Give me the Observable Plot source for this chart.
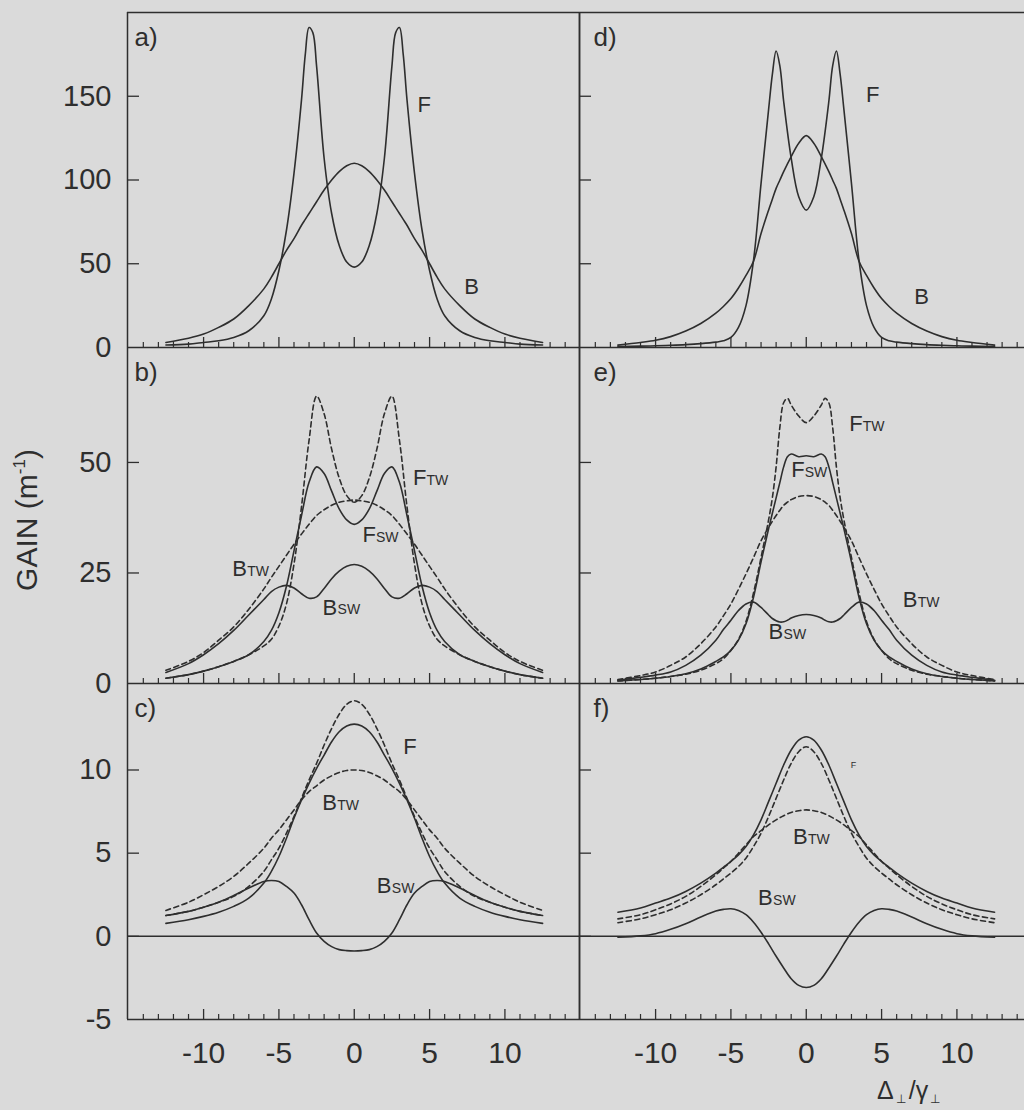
<!DOCTYPE html>
<html>
<head>
<meta charset="utf-8">
<script src="https://cdn.jsdelivr.net/npm/d3@7"></script>
<script src="https://cdn.jsdelivr.net/npm/@observablehq/plot@0.6"></script>
<style>
  html, body { margin: 0; padding: 0; background: #dadada; }
  #fig { position: relative; width: 1024px; height: 1110px; overflow: hidden; background: #dadada;
         font-family: "Liberation Sans", Arial, Helvetica, sans-serif; color: #2e2e2e; }
  .cell { position: absolute; }
  #ylab { position: absolute; left: 27px; top: 520px; transform: translate(-50%, -50%) rotate(-90deg);
          font-size: 30px; white-space: nowrap; }
  #ylab sup { font-size: 17px; vertical-align: 12px; }
  #xlab { position: absolute; left: 877px; top: 1078px; font-size: 25px; line-height: 25px; white-space: nowrap; }
  #xlab sub { font-size: 12px; vertical-align: -4px; margin: 0 3px 0 2px; }
</style>
</head>
<body>
<div id="fig"></div>
<script>
// ---------- data ----------
const xMajor = [-10, -5, 0, 5, 10];
const xMinor = [-14,-13,-12,-11,-9,-8,-7,-6,-4,-3,-2,-1,1,2,3,4,6,7,8,9,11,12,13,14];
const yTicksA = [0, 50, 100, 150];
const yTicksB = [0, 25, 50];
const yTicksC = [-5, 0, 5, 10];
const panelLetters = ["a)", "b)", "c)", "d)", "e)", "f)"];

// panel a
const xA = [-12.5,-11,-10,-9,-8,-7,-6,-5.5,-5,-4.5,-4,-3.5,-3.25,-3,-2.75,-2.5,-2,-1.5,-1,-0.5,0,0.5,1,1.5,2,2.5,2.75,3,3.25,3.5,4,4.5,5,5.5,6,7,8,9,10,11,12.5];
const aF = [1.5,2,3,4,6,10,19,29,46,70,104,148,175,191,188,168,113,80,61,51,48,51,61,80,113,168,188,191,175,148,104,70,46,29,19,10,6,4,3,2,1.5];
const aB = [3,5.5,8,12,17,25,35,42,50,58,65,73,76.5,80,83.5,87,94,100,105,108.5,110,108.5,105,100,94,87,83.5,80,76.5,73,65,58,50,42,35,25,17,12,8,5.5,3];

// panel d
const xD = [-12.5,-11,-10,-9,-8,-7,-6,-5.5,-5,-4.5,-4,-3.5,-3,-2.5,-2.25,-2,-1.75,-1.5,-1,-0.5,0,0.5,1,1.5,1.75,2,2.25,2.5,3,3.5,4,4.5,5,5.5,6,7,8,9,10,11,12.5];
const dF = [0.5,0.8,1,1.3,1.7,2.3,3.2,4,6,12,25,52,98,142,163,177,168,147,113,90,82,90,113,147,168,177,163,142,98,52,25,12,6,4,3.2,2.3,1.7,1.3,1,0.8,0.5];
const dB = [1.4,3,4.3,6.5,9.8,14.3,20.5,24.5,29.2,35.5,43,51.5,68,82,88.5,95,100,105,114,122,126.5,122,114,105,100,95,88.5,82,68,51.5,43,35.5,29.2,24.5,20.5,14.3,9.8,6.5,4.3,3,1.4];

// panel b
const xB = [-12.5,-11,-10,-9,-8,-7,-6,-5.5,-5,-4.5,-4,-3.5,-3,-2.5,-2,-1.5,-1,-0.5,0,0.5,1,1.5,2,2.5,3,3.5,4,4.5,5,5.5,6,7,8,9,10,11,12.5];
const bFtw = [1.2,2,2.8,3.8,5,6.5,8.5,10,13,18,27,40,55,65,61,53,46.5,42.5,41,42.5,46.5,53,61,65,55,40,27,18,13,10,8.5,6.5,5,3.8,2.8,2,1.2];
const bFsw = [1.2,2,2.8,3.8,5,6.5,9.5,12,16,22,30,38,45.5,49,47.5,43.5,39.5,37,36,37,39.5,43.5,47.5,49,45.5,38,30,22,16,12,9.5,6.5,5,3.8,2.8,2,1.2];
const bBtw = [3,5,7,9.8,12.8,16.8,21.4,24,26.5,29,31.5,33.8,36,38,39.3,40.3,41,41.3,41.5,41.3,41,40.3,39.3,38,36,33.8,31.5,29,26.5,24,21.4,16.8,12.8,9.8,7,5,3];
const bBsw = [2.5,4.5,6.5,9,12,15.5,19,20.8,21.8,22.2,21.6,20.3,19.3,19.6,21.5,23.7,25.4,26.5,26.9,26.5,25.4,23.7,21.5,19.6,19.3,20.3,21.6,22.2,21.8,20.8,19,15.5,12,9,6.5,4.5,2.5];

// panel e
const xE = [-12.5,-11,-10,-9,-8,-7,-6,-5.5,-5,-4.5,-4,-3.5,-3,-2.5,-2.25,-2,-1.75,-1.5,-1.25,-1,-0.5,0,0.5,1,1.25,1.5,1.75,2,2.25,2.5,3,3.5,4,4.5,5,5.5,6,7,8,9,10,11,12.5];
const eFtw = [0.6,0.9,1.2,1.6,2.1,3,4.5,5.6,7.5,10,14,20.5,28.5,37,42,49,58,63.5,64.5,63,60.5,59,60.5,63,64.5,63.5,58,49,42,37,28.5,20.5,14,10,7.5,5.6,4.5,3,2.1,1.6,1.2,0.9,0.6];
const eFsw = [0.6,0.9,1.2,1.6,2.2,3.3,5,6,7.5,9.8,13.5,19.5,27.5,35,38.5,42,45.5,49,51.3,51.9,51.3,51.5,51.3,51.9,51.3,49,45.5,42,38.5,35,27.5,19.5,13.5,9.8,7.5,6,5,3.3,2.2,1.6,1.2,0.9,0.6];
const eBtw = [0.9,1.8,2.6,4.1,6,9,12.8,15.3,18,21.3,24.8,28.5,32.3,35.3,36.7,38,39.2,40.3,41,41.6,42.3,42.5,42.3,41.6,41,40.3,39.2,38,36.7,35.3,32.3,28.5,24.8,21.3,18,15.3,12.8,9,6,4.1,2.6,1.8,0.9];
const eBsw = [0.75,1.4,1.9,2.6,4.1,6.4,9.8,12.2,14.3,16.5,18,18.4,17.2,15.5,14.7,14.2,13.9,13.95,14.3,14.8,15.4,15.6,15.4,14.8,14.3,13.95,13.9,14.2,14.7,15.5,17.2,18.4,18,16.5,14.3,12.2,9.8,6.4,4.1,2.6,1.9,1.4,0.75];

// panel c
const xC = [-12.5,-11,-10,-9,-8,-7,-6,-5.5,-5,-4.5,-4,-3.5,-3,-2.5,-2,-1.5,-1,-0.5,0,0.5,1,1.5,2,2.5,3,3.5,4,4.5,5,5.5,6,7,8,9,10,11,12.5];
const cFtw = [1.25,1.5,1.75,2.05,2.4,3.0,3.9,4.6,5.3,6.2,7.2,8.3,9.4,10.4,11.5,12.5,13.35,13.95,14.16,13.95,13.35,12.5,11.5,10.4,9.4,8.3,7.2,6.2,5.3,4.6,3.9,3.0,2.4,2.05,1.75,1.5,1.25];
const cF = [0.78,1.0,1.2,1.45,1.8,2.3,3.2,3.9,4.8,5.9,7.1,8.2,9.2,10.1,10.9,11.7,12.3,12.65,12.76,12.65,12.3,11.7,10.9,10.1,9.2,8.2,7.1,5.9,4.8,3.9,3.2,2.3,1.8,1.45,1.2,1.0,0.78];
const cBtw = [1.56,2.05,2.5,3.0,3.6,4.4,5.3,5.9,6.4,7.0,7.6,8.2,8.7,9.05,9.4,9.65,9.85,9.97,10,9.97,9.85,9.65,9.4,9.05,8.7,8.2,7.6,7.0,6.4,5.9,5.3,4.4,3.6,3.0,2.5,2.05,1.56];
const cBsw = [1.25,1.5,1.75,2.05,2.45,2.9,3.3,3.36,3.3,3.0,2.6,1.9,1.0,0.2,-0.3,-0.62,-0.8,-0.86,-0.88,-0.86,-0.8,-0.62,-0.3,0.2,1.0,1.9,2.6,3.0,3.3,3.36,3.3,2.9,2.45,2.05,1.75,1.5,1.25];

// panel f
const xF = [-12.5,-11,-10,-9,-8,-7,-6,-5.5,-5,-4.5,-4,-3.5,-3,-2.5,-2,-1.5,-1,-0.5,0,0.5,1,1.5,2,2.5,3,3.5,4,4.5,5,5.5,6,7,8,9,10,11,12.5];
const fF = [1.45,1.7,2.0,2.3,2.7,3.2,3.8,4.15,4.5,4.9,5.4,6.1,7.0,8.1,9.2,10.3,11.2,11.8,12.0,11.8,11.2,10.3,9.2,8.1,7.0,6.1,5.4,4.9,4.5,4.15,3.8,3.2,2.7,2.3,2.0,1.7,1.45];
const fFtw = [0.82,1.05,1.3,1.6,2.0,2.5,3.1,3.45,3.8,4.2,4.7,5.4,6.2,7.2,8.3,9.4,10.4,11.1,11.4,11.1,10.4,9.4,8.3,7.2,6.2,5.4,4.7,4.2,3.8,3.45,3.1,2.5,2.0,1.6,1.3,1.05,0.82];
const fBtw = [1.05,1.3,1.6,1.95,2.4,3.0,3.7,4.1,4.5,5.0,5.5,6.0,6.35,6.7,7.0,7.25,7.45,7.55,7.6,7.55,7.45,7.25,7.0,6.7,6.35,6.0,5.5,5.0,4.5,4.1,3.7,3.0,2.4,1.95,1.6,1.3,1.05];
const fBsw = [-0.05,0.03,0.16,0.42,0.76,1.16,1.52,1.62,1.66,1.55,1.3,0.85,0.25,-0.45,-1.2,-1.9,-2.55,-2.95,-3.08,-2.95,-2.55,-1.9,-1.2,-0.45,0.25,0.85,1.3,1.55,1.66,1.62,1.52,1.16,0.76,0.42,0.16,0.03,-0.05];

// curve annotations (letter, subscript, data position)
const annotA = [{t:"F", s:"", x:4.2, y:145}, {t:"B", s:"", x:7.3, y:36}];
const annotB = [{t:"F", s:"TW", x:3.9, y:46.5}, {t:"F", s:"SW", x:0.54, y:33.5}, {t:"B", s:"TW", x:-8.1, y:26}, {t:"B", s:"SW", x:-2.1, y:17.2}];
const annotC = [{t:"F", s:"", x:3.26, y:11.4}, {t:"B", s:"TW", x:-2.13, y:8.0}, {t:"B", s:"SW", x:1.5, y:3.0}];
const annotD = [{t:"F", s:"", x:3.96, y:151}, {t:"B", s:"", x:7.17, y:30}];
const annotE = [{t:"F", s:"TW", x:2.85, y:58.8}, {t:"F", s:"SW", x:-1.0, y:48.2}, {t:"B", s:"TW", x:6.4, y:18.8}, {t:"B", s:"SW", x:-2.5, y:11.6}];
const annotF = [{t:"F", s:"", x:2.95, y:10.3, small:true}, {t:"B", s:"TW", x:-0.88, y:5.96}, {t:"B", s:"SW", x:-3.2, y:2.3}];

// ---------- layout ----------
const INK = "#2e2e2e";
const FONT = "'Liberation Sans', Arial, Helvetica, sans-serif";
const xDom = [-15.05, 14.95];
const cols = [{left: 0, width: 579, ml: 127}, {left: 579, width: 452, ml: 0}];
const rows = [{top: 0, mt: 12, inner: 335, mb: 0}, {top: 347, mt: 0, inner: 336, mb: 0}, {top: 683, mt: 0, inner: 336, mb: 72}];

const panels = [
  {letter: panelLetters[0], col: 0, row: 0, yDom: [0, 200], yTicks: yTicksA, x: xA, annots: annotA,
   series: [{y: aF}, {y: aB}]},
  {letter: panelLetters[1], col: 0, row: 1, yDom: [0, 76], yTicks: yTicksB, x: xB, annots: annotB,
   series: [{y: bFtw, dash: true}, {y: bBtw, dash: true}, {y: bFsw}, {y: bBsw}]},
  {letter: panelLetters[2], col: 0, row: 2, yDom: [-5, 15.2], yTicks: yTicksC, x: xC, annots: annotC, zero: true,
   series: [{y: cFtw, dash: true}, {y: cBtw, dash: true}, {y: cF}, {y: cBsw}]},
  {letter: panelLetters[3], col: 1, row: 0, yDom: [0, 200], yTicks: yTicksA, x: xD, annots: annotD,
   series: [{y: dF}, {y: dB}]},
  {letter: panelLetters[4], col: 1, row: 1, yDom: [0, 76], yTicks: yTicksB, x: xE, annots: annotE,
   series: [{y: eFtw, dash: true}, {y: eBtw, dash: true}, {y: eFsw}, {y: eBsw}]},
  {letter: panelLetters[5], col: 1, row: 2, yDom: [-5, 15.2], yTicks: yTicksC, x: xF, annots: annotF, zero: true,
   series: [{y: fFtw, dash: true}, {y: fBtw, dash: true}, {y: fF}, {y: fBsw}]}
];

const zipXY = (xs, ys) => xs.map((x, i) => ({x, y: ys[i]}));
const fig = document.getElementById("fig");

for (const p of panels) {
  const c = cols[p.col], r = rows[p.row];
  const innerW = c.width - c.ml;
  const rule = {stroke: INK, strokeWidth: 1.5};
  const marks = [];
  marks.push(Plot.ruleY([p.yDom[0]], rule));
  if (p.row === 0) marks.push(Plot.ruleY([p.yDom[1]], rule));
  marks.push(Plot.ruleX([xDom[0]], rule));
  if (p.col === 0) marks.push(Plot.ruleX([xDom[1]], rule));
  if (p.zero) marks.push(Plot.ruleY([0], rule));
  marks.push(Plot.tickX(xMinor, {x: d => d, insetTop: r.inner - 5, stroke: INK, strokeWidth: 1.2}));
  marks.push(Plot.tickX(xMajor, {x: d => d, insetTop: r.inner - 10, stroke: INK, strokeWidth: 1.3}));
  marks.push(Plot.tickY(p.yTicks.filter(v => v > p.yDom[0]), {y: d => d, insetRight: innerW - 12, stroke: INK, strokeWidth: 1.3}));
  for (const s of p.series) {
    marks.push(Plot.line(zipXY(p.x, s.y), {
      x: "x", y: "y", curve: "catmull-rom", stroke: INK, strokeWidth: 1.6,
      strokeDasharray: s.dash ? "5,3.5" : null
    }));
  }
  for (const a of p.annots) {
    marks.push(Plot.text([a], {x: "x", y: "y", text: "t", textAnchor: "start", fontSize: a.small ? 9 : 22, fill: INK}));
    if (a.s) {
      marks.push(Plot.text([a], {x: "x", y: "y", text: "s", textAnchor: "start", dx: a.t === "F" ? 13.5 : 15, dy: 2.5, fontSize: 14, fill: INK}));
    }
  }
  marks.push(Plot.text([p.letter], {text: d => d, frameAnchor: "top-left", textAnchor: "start", lineAnchor: "top",
    dx: p.col === 0 ? 7 : 14, dy: 15, fontSize: 26, fill: INK}));
  if (p.col === 0) {
    marks.push(Plot.axisY(p.yTicks, {anchor: "left", tickSize: 0, tickPadding: 16, fontSize: 29,
      tickFormat: d => String(d), label: null}));
  }
  if (p.row === 2) {
    marks.push(Plot.axisX(xMajor, {anchor: "bottom", tickSize: 0, tickPadding: 22, fontSize: 30,
      tickFormat: d => String(d), label: null}));
  }
  const chart = Plot.plot({
    width: c.width,
    height: r.mt + r.inner + r.mb,
    marginLeft: c.ml, marginRight: 0, marginTop: r.mt, marginBottom: r.mb,
    x: p.row === 2 ? {domain: xDom, label: null} : {domain: xDom, label: null, axis: null},
    y: p.col === 0 ? {domain: p.yDom, label: null} : {domain: p.yDom, label: null, axis: null},
    style: {background: "transparent", overflow: "visible", maxWidth: "none", color: INK, fontFamily: FONT},
    marks
  });
  const cell = document.createElement("div");
  cell.className = "cell";
  cell.style.left = c.left + "px";
  cell.style.top = r.top + "px";
  cell.style.width = c.width + "px";
  cell.style.height = (r.mt + r.inner + r.mb) + "px";
  cell.appendChild(chart);
  fig.appendChild(cell);
}

const ylab = document.createElement("div");
ylab.id = "ylab";
ylab.innerHTML = "GAIN (m<sup>-1</sup>)";
fig.appendChild(ylab);
const xlab = document.createElement("div");
xlab.id = "xlab";
xlab.innerHTML = "Δ<sub>⊥</sub>/γ<sub>⊥</sub>";
fig.appendChild(xlab);
</script>
</body>
</html>
